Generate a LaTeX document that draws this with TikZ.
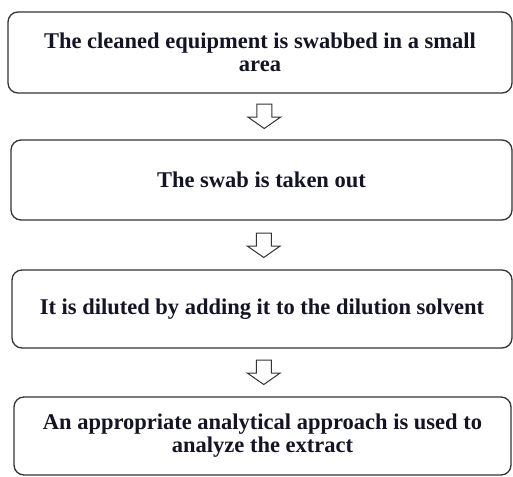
\documentclass[tikz,border=0pt]{standalone}
\usepackage{fontspec}
\setmainfont{Liberation Serif}
\usetikzlibrary{calc}
\definecolor{boxline}{HTML}{333333}
\definecolor{textcol}{HTML}{141424}
\begin{document}
\begin{tikzpicture}[x=1pt,y=-1pt,
  stepbox/.style={draw=boxline, line width=1.3pt, rounded corners=10pt, fill=white,
    inner sep=0pt, align=center, text=textcol,
    font=\fontsize{22.5}{23}\selectfont\bfseries},
  blockarrow/.style={draw=boxline, line width=1pt, fill=white, line join=miter}]
\useasboundingbox (0,0) rectangle (513,476);

\node[stepbox, minimum width=504pt, minimum height=81pt] (b1) at (260,52.5)
  {The cleaned equipment is swabbed in a small\\area};
\node[stepbox, minimum width=501pt, minimum height=80pt] (b2) at (261.5,180)
  {The swab is taken out};
\node[stepbox, minimum width=500pt, minimum height=78pt] (b3) at (262,309)
  {It is diluted by adding it to the dilution solvent};
\node[stepbox, minimum width=497pt, minimum height=78pt] (b4) at (262.5,436)
  {An appropriate analytical approach is used to\\analyze the extract};

\newcommand{\blockarr}[1]{%
  \draw[blockarrow] ($(#1)+(-7.5,0)$) -- ($(#1)+(7.5,0)$) -- ($(#1)+(7.5,13)$)
    -- ($(#1)+(16.5,13)$) -- ($(#1)+(0,24.5)$) -- ($(#1)+(-16.5,13)$)
    -- ($(#1)+(-7.5,13)$) -- cycle;}
\coordinate (a1) at ($(b1.south)!0.5!(b2.north) + (3.5,-12.5)$);
\coordinate (a2) at ($(b2.south)!0.5!(b3.north) + (2,-12)$);
\coordinate (a3) at ($(b3.south)!0.5!(b4.north) + (1.5,-12.5)$);
\blockarr{a1}
\blockarr{a2}
\blockarr{a3}
\end{tikzpicture}
\end{document}
